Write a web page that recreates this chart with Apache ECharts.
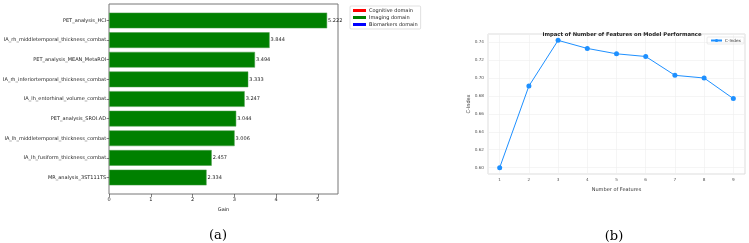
<!DOCTYPE html>
<html>
<head>
<meta charset="utf-8">
<script src="https://cdn.jsdelivr.net/npm/echarts@6/dist/echarts.min.js"></script>
<style>
  html, body { margin: 0; padding: 0; background: #fff; }
  #chart { width: 749px; height: 243px; }
</style>
</head>
<body>
<div id="chart"></div>
<script>
// panel (a): feature importance
const features = [
  'PET_analysis_HCI',
  'IA_rh_middletemporal_thickness_combat',
  'PET_analysis_MEAN_MetaROI',
  'IA_rh_inferiortemporal_thickness_combat',
  'IA_lh_entorhinal_volume_combat',
  'PET_analysis_SROI.AD',
  'IA_lh_middletemporal_thickness_combat',
  'IA_lh_fusiform_thickness_combat',
  'MR_analysis_3ST111TS'
]
const gains = [5.222, 3.844, 3.494, 3.333, 3.247, 3.044, 3.006, 2.457, 2.334]
const domains = ['Cognitive domain', 'Imaging domain', 'Biomarkers domain']
const gainTicks = [0, 1, 2, 3, 4, 5]

// panel (b): number of features vs C-Index
const numFeatures = [1, 2, 3, 4, 5, 6, 7, 8, 9]
const cIndex = [0.600, 0.691, 0.742, 0.733, 0.727, 0.724, 0.703, 0.700, 0.677]

const chart = echarts.init(document.getElementById('chart'))

const small = { fontFamily: 'DejaVu Sans', fontSize: 5, color: '#222' }
const tiny = { fontFamily: 'DejaVu Sans', fontSize: 4.2, color: '#555' }

// matplotlib style margins
const gainMax = Math.max(...gains) * 1.05
const xMinB = 0.6, xMaxB = 9.4
const yPad = (Math.max(...cIndex) - Math.min(...cIndex)) * 0.05
const yMinB = Math.min(...cIndex) - yPad
const yMaxB = Math.max(...cIndex) + yPad

// bar area inside the frame (bars 0.8 wide, 5% margins)
const frameTop = 4, frameH = 190
const bandH = features.length * frameH / 9.68
const bandTop = frameTop + (frameH - bandH) / 2

const option = {
  animation: false,
  title: [
    { text: '(a)', left: 213, top: 231, textAlign: 'center', textVerticalAlign: 'middle',
      textStyle: { fontFamily: 'DejaVu Serif', fontSize: 13, fontWeight: 'normal', color: '#000' } },
    { text: '(b)', left: 609, top: 232, textAlign: 'center', textVerticalAlign: 'middle',
      textStyle: { fontFamily: 'DejaVu Serif', fontSize: 13, fontWeight: 'normal', color: '#000' } },
    { text: 'Impact of Number of Features on Model Performance', left: 617, top: 30,
      textAlign: 'center', textVerticalAlign: 'middle',
      textStyle: { fontFamily: 'DejaVu Sans', fontSize: 5.3, fontWeight: 'bold', color: '#222' } }
  ],
  legend: [
    {
      data: domains, orient: 'vertical', left: 350, top: 6,
      itemWidth: 13, itemHeight: 3, itemGap: 2, icon: 'rect',
      itemStyle: { borderWidth: 0 },
      padding: [2, 3], borderColor: '#ccc', borderWidth: 0.6, borderRadius: 1,
      textStyle: Object.assign({}, small, { padding: [0, 0, 0, -2] }),
      selectedMode: false
    },
    {
      data: ['C-Index'], right: 5, top: 37,
      itemWidth: 11, itemHeight: 4,
      padding: [1.5, 3], borderColor: '#ddd', borderWidth: 0.6, borderRadius: 1,
      textStyle: Object.assign({}, tiny, { color: '#333', padding: [0, 0, 0, -2] }),
      selectedMode: false
    }
  ],
  grid: [
    { left: 109, top: frameTop, width: 229, height: frameH, show: true,
      borderColor: '#777', borderWidth: 1, backgroundColor: '#fff' },
    { left: 109, top: bandTop, width: 229, height: bandH },
    { left: 488, top: 34, width: 257, height: 140, show: true,
      borderColor: '#ddd', borderWidth: 1, backgroundColor: '#fff' }
  ],
  xAxis: [
    { gridIndex: 0, type: 'value', min: 0, max: gainMax, interval: 1,
      axisLine: { show: false }, splitLine: { show: false },
      axisTick: { show: true, length: 3, lineStyle: { color: '#333', width: 0.6 } },
      axisLabel: Object.assign({}, small, { margin: 3, showMaxLabel: false,
        formatter: v => gainTicks.includes(v) ? String(v) : '' }),
      name: 'Gain', nameLocation: 'middle', nameGap: 12,
      nameTextStyle: small },
    { gridIndex: 1, type: 'value', min: 0, max: gainMax, show: false },
    { gridIndex: 2, type: 'value', min: xMinB, max: xMaxB, splitNumber: 8,
      axisLine: { show: false }, axisTick: { show: false },
      splitLine: { show: true, lineStyle: { color: '#eee', width: 0.6 } },
      axisLabel: Object.assign({}, tiny, { margin: 4, showMinLabel: false, showMaxLabel: false }),
      name: 'Number of Features', nameLocation: 'middle', nameGap: 11,
      nameTextStyle: Object.assign({}, small, { color: '#333' }) }
  ],
  yAxis: [
    { gridIndex: 0, type: 'value', show: false },
    { gridIndex: 1, type: 'category', data: features, inverse: true,
      axisLine: { show: false },
      axisTick: { show: true, alignWithLabel: true, length: 2.5, lineStyle: { color: '#333', width: 0.6 } },
      axisLabel: Object.assign({}, small, { margin: 3 }) },
    { gridIndex: 2, type: 'value', min: yMinB, max: yMaxB, splitNumber: 8,
      axisLine: { show: false }, axisTick: { show: false },
      splitLine: { show: true, lineStyle: { color: '#eee', width: 0.6 } },
      axisLabel: Object.assign({}, tiny, { margin: 4, showMinLabel: false, showMaxLabel: false,
        formatter: v => v.toFixed(2) }),
      name: 'C-Index', nameLocation: 'middle', nameGap: 14,
      nameTextStyle: Object.assign({}, small, { color: '#333' }) }
  ],
  series: [
    { name: domains[0], type: 'bar', xAxisIndex: 1, yAxisIndex: 1, data: [],
      itemStyle: { color: '#ff0000' }, barGap: '-100%', barCategoryGap: '20%' },
    { name: domains[1], type: 'bar', xAxisIndex: 1, yAxisIndex: 1, data: gains,
      itemStyle: { color: '#008000', borderColor: '#4a9a4a', borderWidth: 0.5 },
      barGap: '-100%', barCategoryGap: '20%',
      label: { show: true, position: 'right', distance: 1,
        formatter: p => p.value.toFixed(3), ...small } },
    { name: domains[2], type: 'bar', xAxisIndex: 1, yAxisIndex: 1, data: [],
      itemStyle: { color: '#0000ff' }, barGap: '-100%', barCategoryGap: '20%' },
    { name: 'C-Index', type: 'line', xAxisIndex: 2, yAxisIndex: 2,
      data: numFeatures.map((n, i) => [n, cIndex[i]]),
      symbol: 'circle', symbolSize: 5,
      lineStyle: { color: '#1e90ff', width: 1 },
      itemStyle: { color: '#1e90ff' } }
  ]
}

chart.setOption(option)
</script>
</body>
</html>
